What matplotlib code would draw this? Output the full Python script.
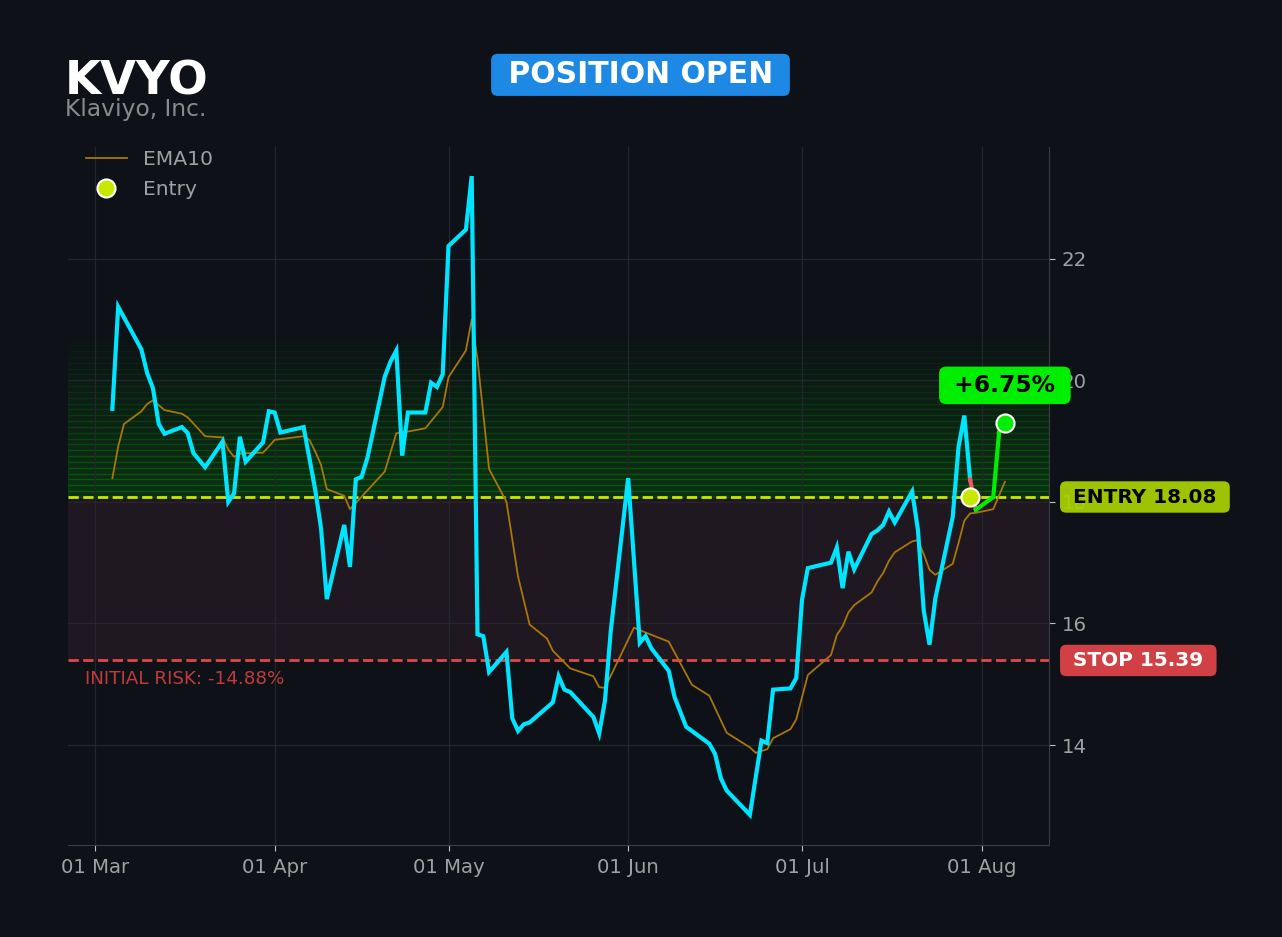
import matplotlib
matplotlib.use("Agg")
import matplotlib.pyplot as plt
import matplotlib.dates as mdates
import matplotlib.transforms as mtransforms
from matplotlib.lines import Line2D
import pandas as pd

ticker = "KVYO"
company = "Klaviyo, Inc."
status = "POSITION OPEN"
year = "2024"
entry_price = 18.08
stop_price = 15.39
entry_date = "07-30"

price_dates = [
    "03-04", "03-05", "03-09", "03-10", "03-11", "03-12", "03-13", "03-16", "03-17", "03-18",
    "03-20", "03-23", "03-24", "03-25", "03-26", "03-27", "03-30", "03-31", "04-01", "04-02",
    "04-06", "04-08", "04-09", "04-10", "04-13", "04-14", "04-15", "04-16", "04-17", "04-20",
    "04-21", "04-22", "04-23", "04-24", "04-27", "04-28", "04-29", "04-30", "05-01", "05-04",
    "05-05", "05-06", "05-07", "05-08", "05-11", "05-12", "05-13", "05-14", "05-15", "05-19",
    "05-20", "05-21", "05-22", "05-26", "05-27", "05-28", "05-29", "06-01", "06-03", "06-04",
    "06-05", "06-08", "06-09", "06-11", "06-15", "06-16", "06-17", "06-18", "06-22", "06-24",
    "06-25", "06-26", "06-29", "06-30", "07-01", "07-02", "07-06", "07-07", "07-08", "07-09",
    "07-10", "07-13", "07-14", "07-15", "07-16", "07-17", "07-20", "07-21", "07-22", "07-23",
    "07-24", "07-27", "07-28", "07-29", "07-30",
]
price_close = [
    19.53, 21.21, 20.51, 20.12, 19.87, 19.28, 19.12, 19.23, 19.13, 18.80,
    18.57, 18.99, 18.00, 18.14, 19.07, 18.66, 18.98, 19.49, 19.47, 19.14,
    19.23, 18.20, 17.57, 16.40, 17.62, 16.93, 18.37, 18.41, 18.72, 20.06,
    20.31, 20.49, 18.76, 19.47, 19.47, 19.96, 19.89, 20.10, 22.21, 22.48,
    23.36, 15.82, 15.79, 15.20, 15.53, 14.44, 14.23, 14.34, 14.37, 14.70,
    15.13, 14.91, 14.87, 14.46, 14.19, 14.73, 15.88, 18.39, 15.68, 15.79,
    15.59, 15.22, 14.79, 14.30, 14.02, 13.85, 13.45, 13.25, 12.85, 14.07,
    14.03, 14.91, 14.93, 15.10, 16.39, 16.91, 17.00, 17.25, 16.58, 17.18,
    16.89, 17.47, 17.53, 17.62, 17.84, 17.66, 18.17, 17.54, 16.21, 15.65,
    16.41, 17.75, 18.90, 19.42, 18.37,
]

ema_dates = [
    "03-04", "03-05", "03-06", "03-09", "03-10", "03-11", "03-13", "03-16", "03-17", "03-20",
    "03-23", "03-24", "03-25", "03-26", "03-27", "03-30", "03-31", "04-01", "04-06", "04-07",
    "04-08", "04-09", "04-10", "04-13", "04-14", "04-15", "04-20", "04-22", "04-23", "04-27",
    "04-30", "05-01", "05-04", "05-05", "05-06", "05-08", "05-11", "05-13", "05-15", "05-18",
    "05-19", "05-22", "05-26", "05-27", "05-28", "06-02", "06-04", "06-08", "06-12", "06-15",
    "06-18", "06-22", "06-23", "06-25", "06-26", "06-29", "06-30", "07-02", "07-06", "07-07",
    "07-08", "07-09", "07-10", "07-13", "07-14", "07-15", "07-16", "07-17", "07-20", "07-21",
    "07-22", "07-23", "07-24", "07-27", "07-28", "07-29", "07-30", "07-31", "08-03", "08-05",
]
ema10 = [
    18.39, 18.91, 19.28, 19.49, 19.61, 19.67, 19.51, 19.45, 19.39, 19.08,
    19.06, 18.86, 18.74, 18.79, 18.80, 18.81, 18.91, 19.02, 19.08, 19.02,
    18.83, 18.61, 18.21, 18.10, 17.88, 17.98, 18.50, 19.13, 19.14, 19.21,
    19.56, 20.05, 20.49, 21.00, 20.35, 18.54, 18.00, 16.77, 15.98, 15.75,
    15.55, 15.26, 15.13, 14.95, 14.94, 15.93, 15.85, 15.70, 14.99, 14.81,
    14.20, 13.96, 13.87, 13.93, 14.11, 14.26, 14.42, 15.15, 15.48, 15.81,
    15.95, 16.18, 16.30, 16.51, 16.69, 16.83, 17.03, 17.17, 17.35, 17.37,
    17.14, 16.88, 16.80, 16.98, 17.32, 17.69, 17.81, 17.82, 17.88, 18.33,
]

# price path since entry
trade_dates = ["07-30", "07-31", "08-03", "08-04", "08-05"]
trade_close = [18.37, 17.87, 18.08, 19.14, 19.30]

# colours
bg = "#0e1117"
cyan = "#00e5ff"
ema_col = "#a8760a"
entry_col = "#c8e800"
stop_col = "#e04848"
up_col = "#00ee00"
down_col = "#f05a5a"
grid_col = "#23262d"
text_grey = "#a0a0a0"


def to_dt(days):
    return pd.to_datetime([year + "-" + d for d in days])


px = to_dt(price_dates)
ex = to_dt(ema_dates)
tx = to_dt(trade_dates)
edate = pd.Timestamp(year + "-" + entry_date)

pnl = (trade_close[-1] / entry_price - 1) * 100
risk = (stop_price / entry_price - 1) * 100
target = entry_price + (entry_price - stop_price)

fig = plt.figure(figsize=(12.82, 9.371), dpi=100, facecolor=bg)
ax = fig.add_axes([0.053, 0.0982, 0.7653, 0.7449], facecolor=bg)

# risk zone and fading reward zone
ax.axhspan(stop_price, entry_price, facecolor="#201820", edgecolor="none", zorder=0)
n_bands = 28
step = (target - entry_price) / n_bands
for i in range(n_bands):
    ax.axhspan(entry_price + i * step, entry_price + (i + 1) * step,
               color="#00c800", alpha=0.17 * (1 - i / n_bands), lw=1, zorder=0.5)

ax.axhline(entry_price, color=entry_col, ls="--", lw=2, zorder=2)
ax.axhline(stop_price, color=stop_col, ls="--", lw=2, zorder=2)

ax.plot(ex, ema10, color=ema_col, lw=1.3, zorder=3)
ax.plot(px, price_close, color=cyan, lw=3, zorder=4, solid_joinstyle="miter")

for i in range(len(trade_close) - 1):
    c = up_col if trade_close[i + 1] >= entry_price else down_col
    ax.plot(tx[i:i + 2], trade_close[i:i + 2], color=c, lw=3, zorder=5)

ax.plot([edate], [entry_price], "o", ms=13, mfc=entry_col, mec="white", mew=1.5, zorder=7)
ax.plot([tx[-1]], [trade_close[-1]], "o", ms=13, mfc=up_col, mec="white", mew=1.5, zorder=7)

ax.annotate(f" {pnl:+.2f}% ", xy=(tx[-1], trade_close[-1]), xytext=(0, 27),
            textcoords="offset points", ha="center", va="center",
            fontsize=16.8, fontweight="bold", color="black", zorder=8,
            bbox=dict(boxstyle="round,pad=0.31", fc=up_col, ec="none"))

side = mtransforms.blended_transform_factory(ax.transAxes, ax.transData)
ax.text(1.0175, entry_price, " ENTRY 18.08 ", transform=side, ha="left", va="center",
        fontsize=14.4, fontweight="bold", color="black", clip_on=False, zorder=8,
        bbox=dict(boxstyle="round,pad=0.31", fc="#aad200", ec="none", alpha=0.93))
ax.text(1.0175, stop_price, " STOP 15.39 ", transform=side, ha="left", va="center",
        fontsize=14.4, fontweight="bold", color="white", clip_on=False, zorder=8,
        bbox=dict(boxstyle="round,pad=0.31", fc="#d04044", ec="none"))
ax.annotate(f"INITIAL RISK: {risk:.2f}%", xy=(0.017, stop_price), xycoords=side,
            xytext=(0, -6.5), textcoords="offset points", ha="left", va="top",
            fontsize=13.2, color="#c03c3c")

# axes styling
ax.set_xlim(pd.Timestamp("2024-02-25 08:00"), pd.Timestamp("2024-08-12 15:00"))
ax.set_ylim(12.354, 23.84)
ax.yaxis.tick_right()
ax.set_yticks([14, 16, 18, 20, 22])
ax.xaxis.set_major_locator(mdates.MonthLocator())
ax.xaxis.set_major_formatter(mdates.DateFormatter("%d %b"))
ax.tick_params(colors="#c0c0c0", labelcolor=text_grey, labelsize=14.2, length=4.5, pad=4.5)
ax.grid(True, color=grid_col, lw=0.9, zorder=0)
ax.set_axisbelow(True)
for s in ["top", "left"]:
    ax.spines[s].set_visible(False)
for s in ["right", "bottom"]:
    ax.spines[s].set_color("#3a3d45")

handles = [
    Line2D([], [], color=ema_col, lw=1.3, label="EMA10"),
    Line2D([], [], marker="o", ls="", ms=13, mfc=entry_col, mec="white", mew=1.5, label="Entry"),
]
ax.legend(handles=handles, loc="upper left", bbox_to_anchor=(0, 1.022), frameon=False,
          labelcolor=text_grey, fontsize=14.6, labelspacing=0.55)

fig.text(0.0507, 0.8994, ticker, fontsize=33.5, fontweight="bold", color="white", va="baseline")
fig.text(0.0507, 0.8762, company, fontsize=16.8, color="#8a8a8a", va="baseline")
fig.text(0.4996, 0.9200, " " + status + " ", fontsize=21.5, fontweight="bold", color="white",
         ha="center", va="center",
         bbox=dict(boxstyle="round,pad=0.22", fc="#1e88e5", ec="none"))

fig.savefig("out.png", dpi=100, facecolor=bg)
